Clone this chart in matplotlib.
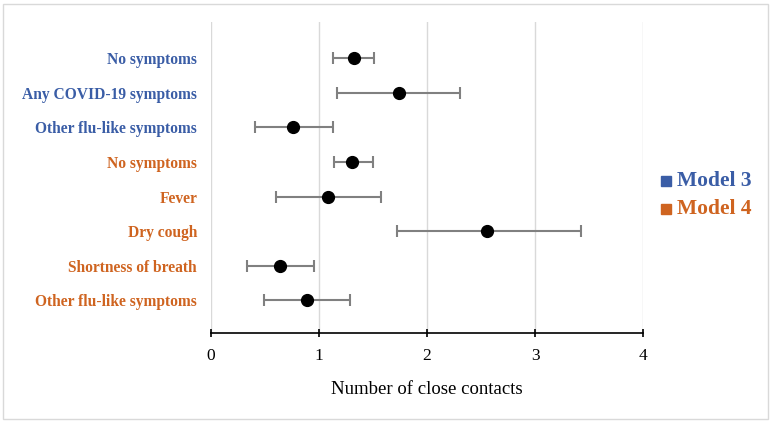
import matplotlib.pyplot as plt
from matplotlib.patches import Rectangle

# data
labels = ["No symptoms", "Any COVID-19 symptoms", "Other flu-like symptoms",
          "No symptoms", "Fever", "Dry cough", "Shortness of breath",
          "Other flu-like symptoms"]
model = [3, 3, 3, 4, 4, 4, 4, 4]
estimate = [1.32, 1.74, 0.76, 1.31, 1.08, 2.56, 0.64, 0.89]
lower = [1.13, 1.17, 0.41, 1.14, 0.60, 1.72, 0.33, 0.49]
upper = [1.51, 2.31, 1.13, 1.50, 1.57, 3.43, 0.95, 1.29]
xticks = [0, 1, 2, 3, 4]

BLUE = "#3A5DA6"
ORANGE = "#CF6420"
model_colors = {3: BLUE, 4: ORANGE}

plt.rcParams['font.family'] = ['Liberation Serif', 'DejaVu Serif']

fig = plt.figure(figsize=(7.72, 4.22), dpi=100)
ax = fig.add_axes([211 / 772, 1 - 333 / 422, 432 / 772, 311 / 422])

ypos = list(range(len(labels)))
xerr = [[e - l for e, l in zip(estimate, lower)],
        [u - e for e, u in zip(estimate, upper)]]
ax.errorbar(estimate, ypos, xerr=xerr, fmt='o', color='black', markersize=8.5,
            ecolor='#808080', elinewidth=1.5, capsize=4, capthick=1.5, zorder=3)

ax.set_xlim(0, 4)
ax.set_ylim(7.95, -1.05)
ax.set_xticks(xticks)
ax.set_xticklabels([str(t) for t in xticks], fontsize=12.5)
ax.set_yticks(ypos)
ax.set_yticklabels(labels, fontsize=11.2, fontweight='bold')
for tl, m in zip(ax.get_yticklabels(), model):
    tl.set_color(model_colors[m])
ax.tick_params(axis='y', length=0, pad=10)
ax.tick_params(axis='x', direction='inout', length=6, width=1.2, pad=8)
ax.grid(axis='x', color='#D9D9D9', linewidth=1)
ax.set_axisbelow(True)
for s in ['top', 'right', 'left']:
    ax.spines[s].set_visible(False)
ax.spines['bottom'].set_linewidth(1.2)
ax.set_xlabel("Number of close contacts", fontsize=13.5, labelpad=12)

# legend (squares + bold serif text)
for i, (name, col) in enumerate([("Model 3", BLUE), ("Model 4", ORANGE)]):
    yy = 1 - (181 + i * 28) / 422
    fig.patches.append(Rectangle((661 / 772, yy - 5 / 422), 10 / 772, 10 / 422,
                                 transform=fig.transFigure, color=col))
    fig.text(677 / 772, yy, name, color=col, fontsize=15.5, fontweight='bold',
             va='center', ha='left')

# outer border
fig.patches.append(Rectangle((3 / 772, 3 / 422), 765 / 772, 415 / 422,
                             transform=fig.transFigure, fill=False,
                             edgecolor='#D9D9D9', linewidth=1))

fig.savefig("out.png", dpi=100)
